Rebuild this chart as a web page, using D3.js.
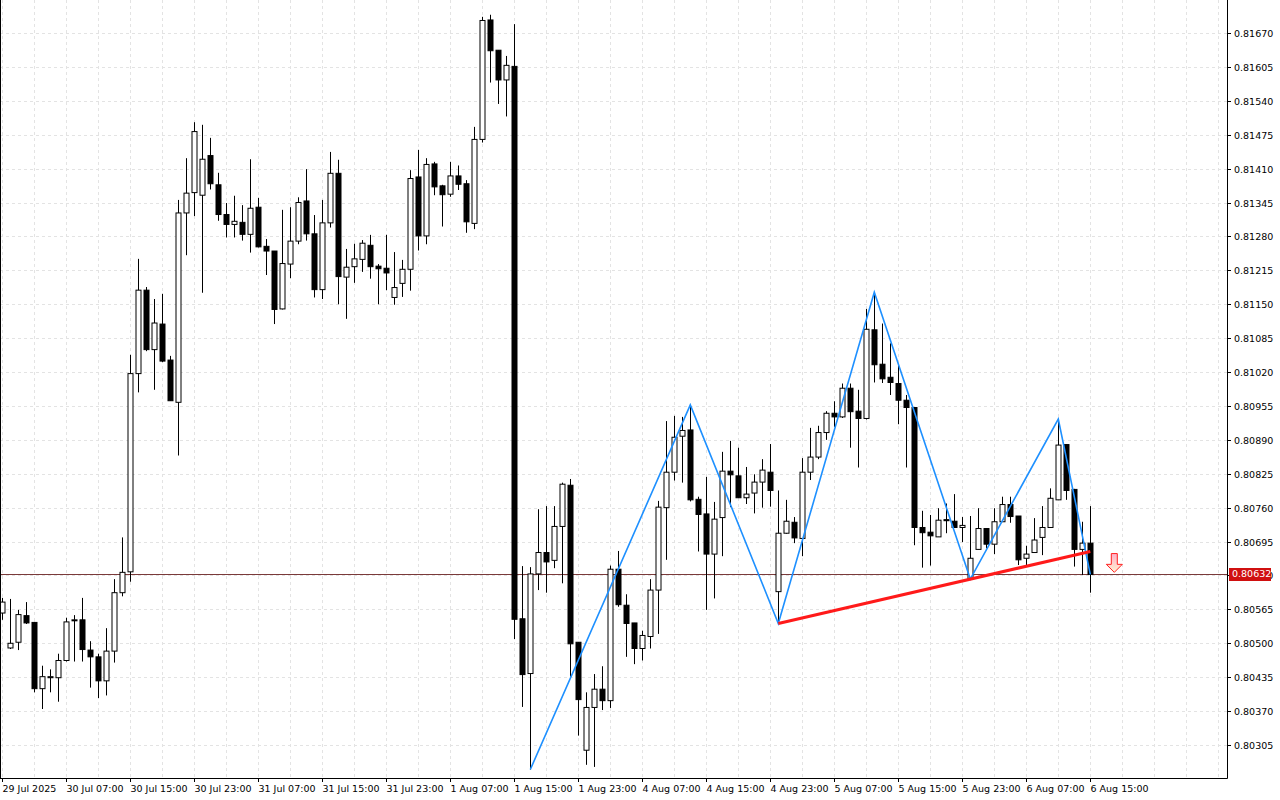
<!DOCTYPE html>
<html><head><meta charset="utf-8">
<script src="https://cdn.jsdelivr.net/npm/d3@7"></script>
<style>html,body{margin:0;padding:0;background:#fff;}svg{display:block;}</style>
</head><body><div id="vis"></div>
<script>
// H1 candles, prices in points (1 point = 0.00001)
const openPts = [80558,80491,80502,80553,80540,80413,80434,80434,80467,80545,80545,80487,80474,80428,80485,80597,80637,81017,81177,81063,81112,81043,80962,81325,81364,81359,81435,81379,81322,81303,81307,81284,81336,81261,81252,81141,81227,81271,81348,81285,81178,81306,81401,81202,81222,81236,81263,81223,81219,81163,81190,81217,81394,81281,81419,81377,81361,81396,81381,81305,81466,81695,81637,81580,81606,80547,80442,80633,80674,80659,80724,80803,80502,80295,80377,80412,80390,80642,80573,80539,80490,80513,80602,80760,80828,80897,80909,80776,80748,80671,80741,80830,80821,80779,80788,80809,80828,80599,80711,80732,80701,80828,80857,80904,80941,80934,80989,80945,80931,81101,81035,81010,80998,80966,80952,80722,80713,80704,80737,80734,80722,80623,80680,80720,80690,80733,80766,80744,80663,80674,80703,80722,80775,80881,80795,80680,80692];
const highPts = [80587,80585,80564,80579,80541,80457,80450,80480,80549,80554,80587,80504,80480,80529,80623,80703,81053,81237,81183,81160,81170,81051,81350,81430,81499,81494,81469,81402,81344,81358,81340,81428,81354,81275,81252,81331,81336,81355,81409,81321,81350,81442,81427,81256,81266,81273,81283,81227,81283,81250,81235,81407,81446,81430,81423,81379,81423,81416,81388,81490,81701,81705,81637,81626,81687,80648,80646,80757,80763,80763,80808,80815,80502,80406,80441,80456,80649,80677,80594,80539,80524,80623,80773,80926,80936,80934,80957,80781,80819,80771,80867,80888,80875,80838,80824,80853,80882,80793,80775,80742,80855,80913,80917,80945,80964,80998,80998,80986,81141,81173,81113,81075,81034,80976,80953,80754,80746,80759,80768,80786,80742,80744,80759,80721,80759,80781,80781,80744,80687,80740,80763,80797,80930,80882,80796,80733,80763];
const lowPts = [80545,80489,80487,80537,80406,80374,80406,80388,80465,80465,80465,80415,80395,80400,80463,80590,80618,80981,81060,80986,81039,80965,80860,81244,81319,81172,81370,81310,81278,81278,81272,81249,81259,81206,81112,81140,81200,81265,81272,81163,81160,81297,81150,81122,81191,81212,81199,81150,81177,81149,81164,81176,81253,81265,81359,81299,81356,81369,81287,81294,81460,81575,81534,81510,80508,80378,80258,80602,80597,80644,80615,80436,80323,80267,80263,80372,80376,80570,80474,80460,80467,80490,80518,80660,80812,80808,80772,80676,80564,80586,80667,80761,80779,80767,80749,80760,80762,80538,80710,80692,80667,80813,80853,80890,80915,80932,80875,80837,80929,81000,80999,80976,80920,80837,80688,80645,80649,80704,80711,80722,80694,80623,80680,80682,80671,80733,80731,80650,80649,80674,80669,80722,80775,80775,80647,80631,80597];
const closePts = [80579,80500,80555,80539,80413,80436,80436,80467,80541,80545,80488,80474,80428,80485,80597,80636,81017,81177,81063,81114,81041,80965,81325,81363,81481,81428,81381,81322,81303,81309,81284,81334,81260,81252,81140,81228,81271,81345,81285,81178,81306,81401,81203,81221,81237,81267,81222,81218,81210,81182,81217,81391,81281,81418,81375,81360,81396,81380,81308,81466,81694,81636,81580,81608,80546,80440,80633,80674,80656,80724,80805,80499,80392,80377,80412,80390,80642,80574,80538,80490,80515,80602,80761,80828,80895,80908,80775,80747,80671,80738,80830,80823,80779,80786,80809,80832,80793,80711,80734,80702,80828,80857,80904,80941,80934,80989,80944,80931,81102,81034,81007,81000,80966,80952,80722,80712,80706,80736,80735,80722,80726,80663,80720,80690,80733,80766,80743,80660,80671,80698,80722,80778,80880,80793,80680,80692,80632];

const timeLabels = ["29 Jul 2025","30 Jul 07:00","30 Jul 15:00","30 Jul 23:00","31 Jul 07:00","31 Jul 15:00","31 Jul 23:00","1 Aug 07:00","1 Aug 15:00","1 Aug 23:00","4 Aug 07:00","4 Aug 15:00","4 Aug 23:00","5 Aug 07:00","5 Aug 15:00","5 Aug 23:00","6 Aug 07:00","6 Aug 15:00"];
const priceTicks = [80305,80370,80435,80500,80565,80630,80695,80760,80825,80890,80955,81020,81085,81150,81215,81280,81345,81410,81475,81540,81605,81670];

// zigzag pivots [bar index, price pts], neckline, signal arrow
const zigzag = [[66,80258],[86,80957],[97,80538],[109,81173],[121,80623],[132,80930],[136,80632]];
const neckline = [[97,80538],[136,80676]];
const arrowBar = 139, arrowTop = 80672, arrowTip = 80636;
const lastPrice = 80632;

const W = 1280, H = 800, plotR = 1227, plotB = 778;
const svg = d3.select("#vis").append("svg").attr("width", W).attr("height", H);

const x = d3.scaleLinear().domain([0, 136]).range([2.3, 2.3 + 8 * 136]);
const y = d3.scaleLinear().domain([80305, 81670]).range([745, 33]);

const g = svg.append("g");

// grid
const gridBars = d3.range(0, 154, 4).filter(i => x(i) < plotR);
g.selectAll(".vg").data(gridBars).join("line")
  .attr("x1", d => Math.round(x(d)) + 0.5).attr("x2", d => Math.round(x(d)) + 0.5)
  .attr("y1", 0).attr("y2", plotB)
  .attr("stroke", "#e3e3e3").attr("stroke-dasharray", "3,3");
g.selectAll(".hg").data(priceTicks).join("line")
  .attr("x1", 0).attr("x2", plotR)
  .attr("y1", d => Math.round(y(d)) + 0.5).attr("y2", d => Math.round(y(d)) + 0.5)
  .attr("stroke", "#e3e3e3").attr("stroke-dasharray", "3,3");

// last price line
g.append("line").attr("x1", 0).attr("x2", plotR)
  .attr("y1", Math.round(y(lastPrice)) + 0.5).attr("y2", Math.round(y(lastPrice)) + 0.5)
  .attr("stroke", "#7a3a3a").attr("stroke-width", 1);

// candles
const bars = d3.range(openPts.length).map(i => ({i, o: openPts[i], h: highPts[i], l: lowPts[i], c: closePts[i]}));
const cg = g.selectAll(".c").data(bars).join("g");
cg.append("line")
  .attr("x1", d => Math.round(x(d.i)) + 0.5).attr("x2", d => Math.round(x(d.i)) + 0.5)
  .attr("y1", d => y(d.h)).attr("y2", d => y(d.l))
  .attr("stroke", "#000").attr("stroke-width", 1);
cg.append("rect")
  .attr("x", d => Math.round(x(d.i)) - 2)
  .attr("y", d => y(Math.max(d.o, d.c)))
  .attr("width", 5)
  .attr("height", d => Math.max(1, Math.abs(y(d.o) - y(d.c))))
  .attr("fill", d => d.c >= d.o ? "#fff" : "#000")
  .attr("stroke", "#000").attr("stroke-width", 1);

// zigzag
const line = d3.line().x(d => x(d[0])).y(d => y(d[1]));
g.append("path").attr("d", line(zigzag)).attr("fill", "none")
  .attr("stroke", "#1e90ff").attr("stroke-width", 1.6);
g.append("path").attr("d", line(neckline)).attr("fill", "none")
  .attr("stroke", "#ff1a1a").attr("stroke-width", 3);

// signal arrow
const defs = svg.append("defs");
const grad = defs.append("linearGradient").attr("id", "ag").attr("x1", 0).attr("y1", 0).attr("x2", 0).attr("y2", 1);
grad.append("stop").attr("offset", "0%").attr("stop-color", "#ffb0c8");
grad.append("stop").attr("offset", "100%").attr("stop-color", "#fff0d0");
const ax = x(arrowBar), at = y(arrowTop), ap = y(arrowTip);
g.append("path")
  .attr("d", `M${ax - 3},${at} L${ax + 3},${at} L${ax + 3},${ap - 8} L${ax + 8},${ap - 8} L${ax},${ap} L${ax - 8},${ap - 8} L${ax - 3},${ap - 8} Z`)
  .attr("fill", "url(#ag)").attr("stroke", "#ff2020").attr("stroke-width", 1);

// frame
svg.append("line").attr("x1", plotR + 0.5).attr("x2", plotR + 0.5).attr("y1", 0).attr("y2", plotB + 0.5).attr("stroke", "#000");
svg.append("line").attr("x1", 0).attr("x2", plotR + 0.5).attr("y1", plotB + 0.5).attr("y2", plotB + 0.5).attr("stroke", "#000");
svg.append("line").attr("x1", 0.5).attr("x2", 0.5).attr("y1", 0).attr("y2", plotB).attr("stroke", "#000");

// price axis
const pa = svg.append("g").selectAll("g").data(priceTicks).join("g")
  .attr("transform", d => `translate(${plotR},${Math.round(y(d)) + 0.5})`);
pa.append("line").attr("x1", 0).attr("x2", 4).attr("stroke", "#000");
pa.append("text").attr("x", 7).attr("dy", "0.35em")
  .attr("font-family", "DejaVu Sans").attr("font-size", 9.5).attr("fill", "#000")
  .text(d => (d / 1e5).toFixed(5));

// last price tag
const ly = Math.round(y(lastPrice));
svg.append("rect").attr("x", plotR + 2).attr("y", ly - 6).attr("width", 42).attr("height", 13).attr("fill", "#d01010");
svg.append("text").attr("x", plotR + 5).attr("y", ly).attr("dy", "0.35em")
  .attr("font-family", "DejaVu Sans").attr("font-size", 9.5).attr("fill", "#fff")
  .text((lastPrice / 1e5).toFixed(5));

// time axis
const ta = svg.append("g").selectAll("g").data(timeLabels).join("g")
  .attr("transform", (d, k) => `translate(${Math.round(x(k * 8)) + 0.5},${plotB})`);
ta.append("line").attr("y1", 0).attr("y2", 4).attr("stroke", "#000");
ta.append("text").attr("x", 0).attr("y", 14)
  .attr("font-family", "DejaVu Sans").attr("font-size", 9.5).attr("fill", "#000")
  .text(d => d);
</script></body></html>
